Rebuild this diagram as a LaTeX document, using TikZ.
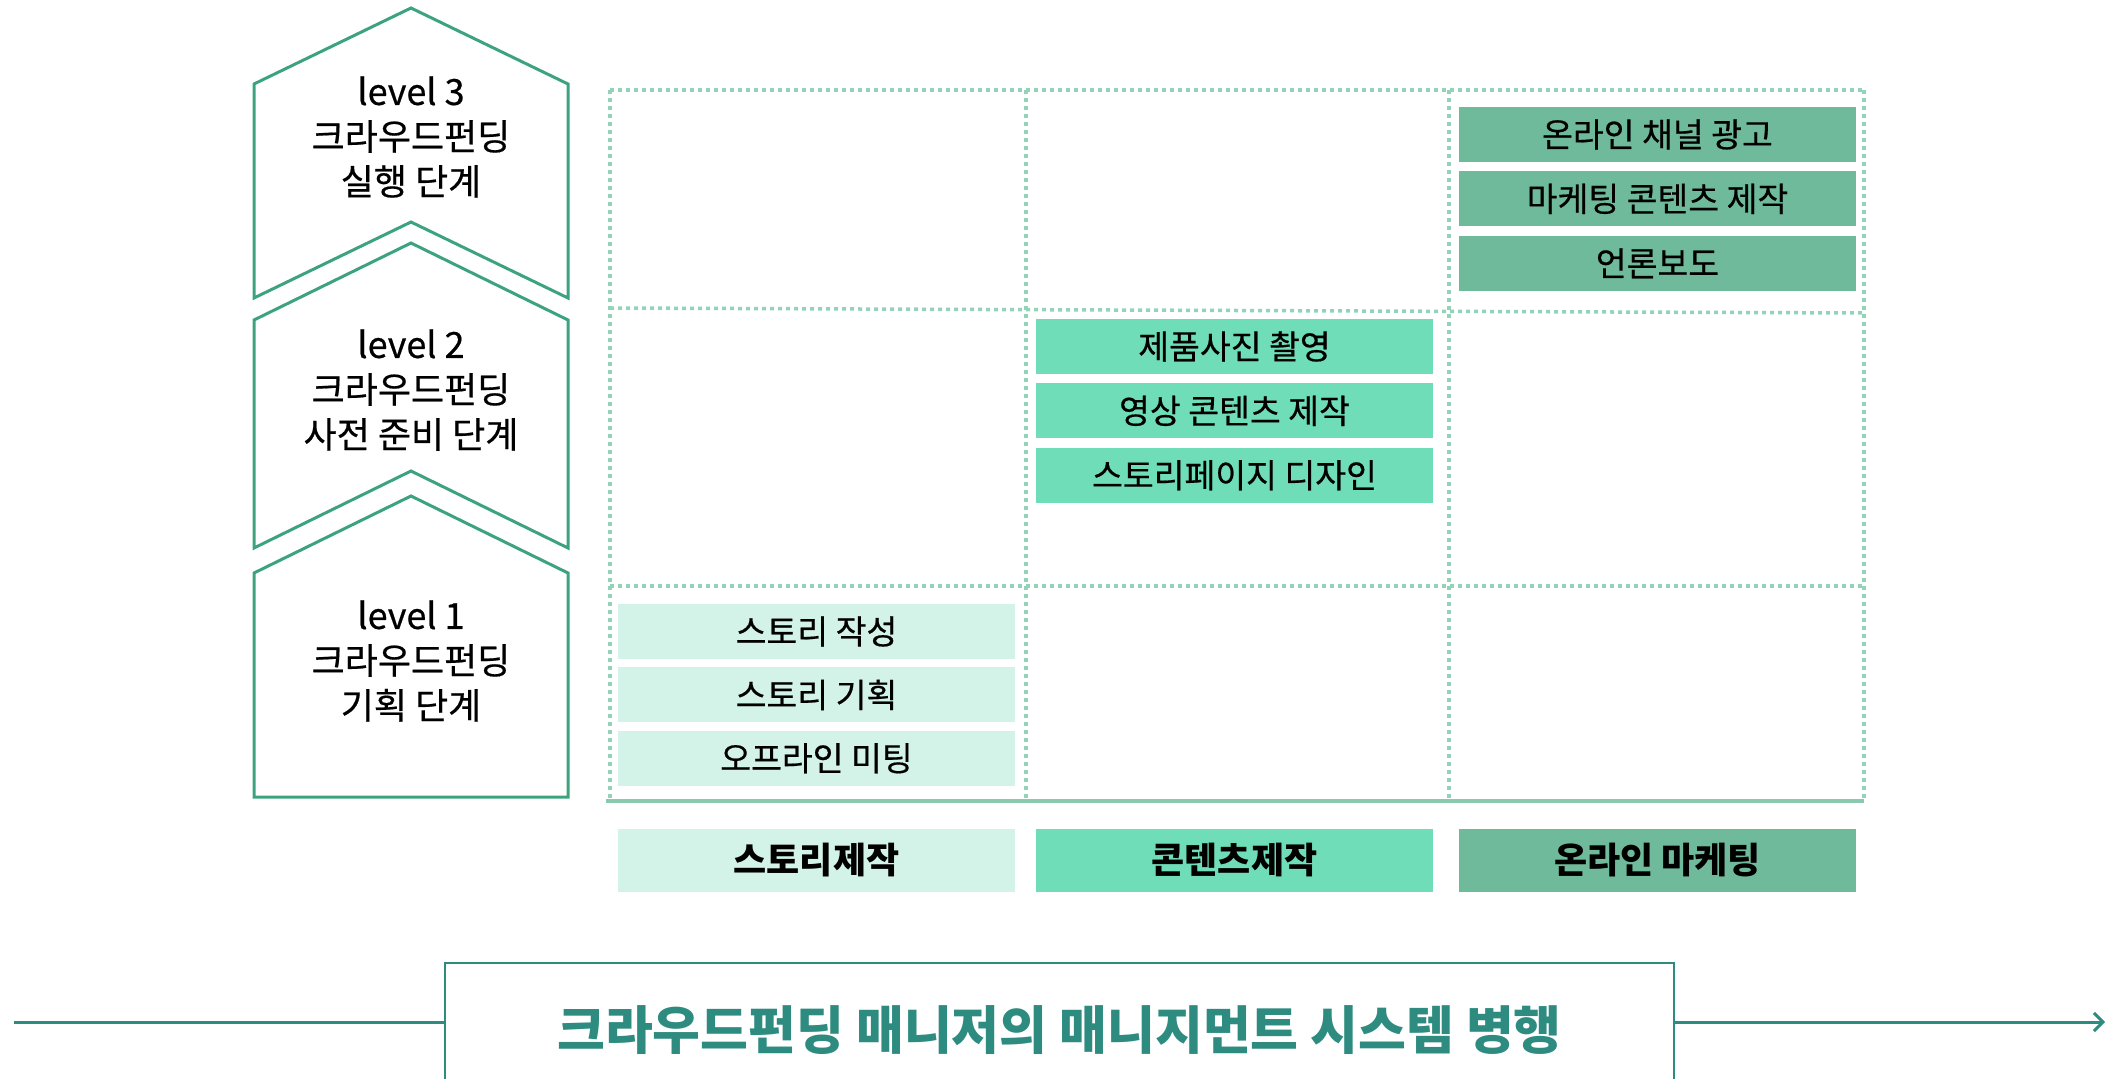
\documentclass[tikz,border=0pt]{standalone}
\usepackage{fontspec}
\setmainfont{Noto Sans CJK KR}
\newfontfamily\medfont{Noto Sans CJK KR}[FakeBold=0.5]
\usepackage{tikz}
\usetikzlibrary{positioning,arrows.meta}

\definecolor{chevgreen}{HTML}{3DA37E}
\definecolor{gridgreen}{HTML}{92D3B9}
\definecolor{lightmint}{HTML}{D3F3E8}
\definecolor{midmint}{HTML}{6EDDB8}
\definecolor{darkmint}{HTML}{6FBA9A}
\definecolor{teal}{HTML}{2E8B80}

\begin{document}
\begin{tikzpicture}[x=1pt,y=-1pt,
  chev/.style={draw=chevgreen,line width=3pt,line join=miter},
  levtext/.style={align=center,font=\medfont\fontsize{36}{45}\selectfont},
  grid/.style={draw=gridgreen,line width=3.5pt,dash pattern=on 4pt off 4pt},
  task/.style={minimum width=397pt,minimum height=55pt,inner sep=0pt,font=\medfont\fontsize{33.5}{38}\selectfont},
  cat/.style={minimum width=397pt,minimum height=63pt,inner sep=0pt,font=\bfseries\fontsize{36}{42}\selectfont}]
\useasboundingbox (0,0) rectangle (2113,1079);
% level chevrons
\draw[chev] (254,84)--(411,8)--(568,84)--(568,298)--(411,222)--(254,298)--cycle;
\draw[chev] (254,320)--(411,243)--(568,320)--(568,548)--(411,471)--(254,548)--cycle;
\draw[chev] (254,573)--(411,496)--(568,573)--(568,797)--(254,797)--cycle;
\node[levtext] (lev3) at (411,137) {level 3\\크라우드펀딩\\실행 단계};
\node[levtext] (lev2) at (411,390) {level 2\\크라우드펀딩\\사전 준비 단계};
\node[levtext] (lev1) at (411,661) {level 1\\크라우드펀딩\\기획 단계};
% grid
\draw[grid] (610,90)--(1864,90);
\draw[grid] (610,308)--(1864,313);
\draw[grid] (610,586)--(1864,586);
\foreach \gx in {610,1026,1449,1864}
  \draw[grid] (\gx,90)--(\gx,798);
\draw[gridgreen!95!black,line width=4pt] (606,801)--(1864,801);
% tasks
\node[task,fill=darkmint] (ad) at (1657.5,134.5) {온라인 채널 광고};
\node[task,fill=darkmint,below=9pt of ad] (mkt) {마케팅 콘텐츠 제작};
\node[task,fill=darkmint,below=9pt of mkt] (press) {언론보도};
\node[task,fill=midmint] (photo) at (1234.5,346.5) {제품사진 촬영};
\node[task,fill=midmint,below=9pt of photo] (video) {영상 콘텐츠 제작};
\node[task,fill=midmint,below=9pt of video] (page) {스토리페이지 디자인};
\node[task,fill=lightmint] (write) at (816.5,631.5) {스토리 작성};
\node[task,fill=lightmint,below=8pt of write] (plan) {스토리 기획};
\node[task,fill=lightmint,below=8pt of plan] (meet) {오프라인 미팅};
% categories
\node[cat,fill=lightmint] (story) at (816.5,860.5) {스토리제작};
\node[cat,fill=midmint] (content) at (1234.5,860.5) {콘텐츠제작};
\node[cat,fill=darkmint] (online) at (1657.5,860.5) {온라인 마케팅};
% management line
\node[draw=teal,line width=2.5pt,minimum width=1229pt,minimum height=134pt,
  text=teal,font=\bfseries\fontsize{52}{58}\selectfont] (title) at (1059.5,1030)
  {크라우드펀딩 매니저의 매니지먼트 시스템 병행};
\coordinate (lstart) at (14,1022);
\coordinate (lend) at (2105,1022);
\draw[teal,line width=3pt] (lstart)--(lstart -| title.west);
\draw[teal,line width=3pt,-{Straight Barb[length=9pt,width=18pt]}] (lstart -| title.east)--(lend);
\end{tikzpicture}
\end{document}
